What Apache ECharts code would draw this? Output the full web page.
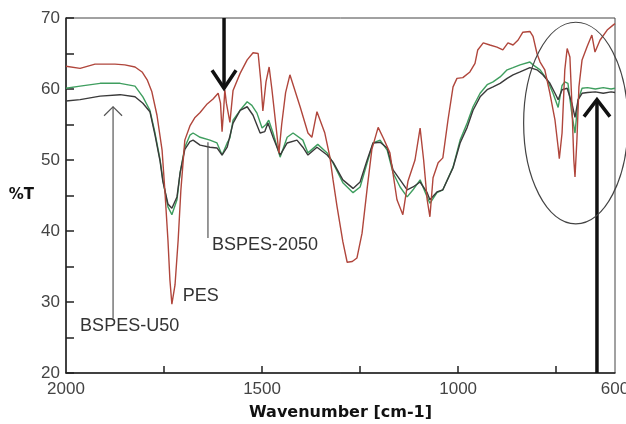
<!DOCTYPE html>
<html><head><meta charset="utf-8">
<script src="https://cdn.jsdelivr.net/npm/echarts@6/dist/echarts.min.js"></script>
<style>html,body{margin:0;padding:0;background:#fff}#c{width:626px;height:424px}</style>
</head><body><div id="c"></div>
<script>
// ---- data (wavenumber cm-1, %T) ----
const pesWn = [2000,1964,1926,1875,1850,1824,1806,1793,1781,1768,
  1755,1748,1740,1735,1730,1722,1714,1707,1697,1684,
  1671,1658,1640,1625,1612,1606,1602,1598,1595,1591,
  1582,1574,1556,1538,1523,1510,1503,1498,1490,1482,
  1475,1465,1457,1450,1440,1429,1424,1403,1383,1373,
  1360,1340,1327,1319,1309,1294,1283,1270,1258,1245,
  1232,1220,1204,1190,1174,1156,1141,1128,1110,1097,
  1088,1079,1072,1064,1051,1039,1026,1013,1003,988,
  970,957,950,936,919,901,886,873,860,847,
  835,817,809,799,791,779,766,753,745,742,
  735,728,722,715,710,705,702,697,692,684,
  671,659,651,638,620,605,600];
const pesT = [63.2,62.9,63.5,63.5,63.4,63.1,62.4,61.3,59.6,56.3,
  51.4,45.8,38.7,33.1,29.7,32.4,38.7,45.8,52.8,54.8,
  56.0,56.7,57.9,58.6,59.4,58.0,54.0,57.0,59.9,58.0,
  55.3,59.8,62.2,64.1,65.1,65.0,61.0,56.9,61.0,63.1,
  60.0,55.0,51.0,55.0,59.5,62.0,61.8,57.5,53.8,53.2,
  56.8,53.8,50.4,47.2,43.5,38.5,35.6,35.7,36.2,39.7,
  46.0,51.5,54.6,53.0,51.0,44.4,42.3,47.0,50.0,54.5,
  50.0,44.4,42.0,47.5,49.6,50.3,55.6,60.3,61.5,61.6,
  62.4,63.6,65.5,66.5,66.2,65.9,65.5,66.5,66.2,66.9,
  68.0,68.1,67.4,65.0,63.8,62.7,59.4,55.6,51.8,50.2,
  53.8,62.7,65.7,64.5,58.0,50.0,47.6,53.0,60.3,64.1,
  66.0,67.6,65.2,66.9,68.3,69.0,69.2];

const b2050Wn = [2000,1964,1913,1862,1824,1804,1786,1773,1760,1753,
  1740,1730,1717,1709,1697,1684,1676,1658,1633,1615,
  1602,1589,1582,1574,1556,1538,1526,1513,1500,1490,
  1483,1472,1454,1436,1421,1396,1383,1358,1334,1319,
  1294,1268,1250,1232,1217,1199,1181,1166,1148,1130,
  1115,1097,1079,1072,1054,1039,1013,995,977,962,
  944,926,911,893,875,860,842,817,809,791,
  773,758,745,735,728,720,710,702,694,684,
  670,650,630,610,600];
const b2050T = [60.1,60.4,60.8,60.8,60.4,58.9,57.0,53.8,50.0,47.2,
  43.4,42.3,44.4,48.2,51.8,53.5,53.8,53.2,52.8,52.4,
  50.7,52.4,53.1,55.6,57.0,58.2,57.7,56.6,54.5,55.0,
  55.6,53.8,50.4,53.2,53.8,52.8,51.0,52.2,51.0,49.6,
  46.8,45.4,46.2,49.6,52.4,52.8,51.4,48.2,46.2,44.8,
  45.8,47.2,44.8,43.9,45.4,45.8,49.0,52.8,55.2,57.5,
  59.4,60.6,61.0,61.7,62.7,63.0,63.4,63.8,63.4,62.7,
  61.3,59.4,57.4,60.5,61.0,60.8,56.5,53.8,58.5,60.1,
  60.2,60.0,60.2,60.0,60.1];

const u50Wn = [2000,1964,1913,1862,1824,1804,1786,1773,1760,1753,
  1740,1730,1717,1709,1697,1684,1676,1658,1633,1615,
  1602,1589,1574,1556,1538,1523,1505,1493,1485,1472,
  1454,1436,1411,1396,1383,1360,1334,1319,1294,1268,
  1250,1232,1217,1199,1181,1166,1148,1130,1115,1097,
  1079,1072,1054,1039,1013,995,977,962,944,926,
  911,893,875,860,842,817,799,784,766,753,
  745,735,722,710,702,694,684,670,650,630,
  610,600];
const u50T = [58.3,58.5,59.0,59.2,58.9,58.0,56.8,53.5,49.8,47.0,
  43.8,43.2,44.8,48.2,51.5,52.6,52.8,52.1,51.8,51.7,
  50.7,51.8,55.2,57.0,57.5,56.3,53.8,54.0,55.2,53.2,
  50.7,52.4,52.8,51.8,50.7,51.8,50.7,49.7,47.2,46.0,
  46.9,50.0,52.4,52.5,51.7,48.6,47.2,45.8,46.2,46.9,
  45.4,44.4,45.5,45.8,48.9,52.4,54.6,57.0,58.9,59.9,
  60.3,60.8,61.5,62.0,62.4,63.0,62.7,62.0,60.8,59.4,
  58.5,59.9,60.1,58.0,56.0,58.5,59.4,59.5,59.6,59.4,
  59.6,59.5];

const xLabelValues = [2000, 1500, 1000, 600];
const xTickValues = [1750, 1500, 1250, 1000, 750];

// annotation anchors in data units [wavenumber, %T]
const downArrow = [[1597, 70], [1597, 60.1]];
const upArrow = [[646, 20], [646, 58.5]];
const u50Leader = [[1880, 27.7], [1880, 57.5]];
const b2050Leader = [[1638, 52.5], [1638, 39.0]];
const labelTexts = ['BSPES-U50', 'BSPES-2050', 'PES'];
const labelPos = [[1964, 26.6], [1628, 38.0], [1702, 30.8]];
const ellipseCenter = [700, 55.2];
const ellipseHalf = [133, 14.2]; // half-width in cm-1, half-height in %T

const zip = (a, b) => a.map((v, i) => [v, b[i]]);
const FONT = 'Liberation Sans, Arial, sans-serif';

const chart = echarts.init(document.getElementById('c'));
chart.setOption({
  animation: false,
  backgroundColor: '#fff',
  grid: { left: 66, right: 11, top: 18, bottom: 51, outerBoundsMode: 'none', containLabel: false,
    show: true, borderColor: '#444', borderWidth: 1 },
  xAxis: {
    type: 'value', min: 600, max: 2000, inverse: true,
    name: 'Wavenumber [cm-1]', nameLocation: 'middle', nameGap: 32,
    nameTextStyle: { fontFamily: 'DejaVu Sans', fontWeight: 'bold', fontSize: 16, color: '#111' },
    axisLine: { show: true, onZero: false, lineStyle: { color: '#222', width: 1.5 } },
    axisTick: { show: true, inside: true, length: 7, customValues: xTickValues, lineStyle: { color: '#222', width: 1.5 } },
    axisLabel: { customValues: xLabelValues, formatter: (v) => String(v), margin: 8, fontFamily: FONT, fontSize: 17, color: '#444', showMinLabel: true, showMaxLabel: true },
    splitLine: { show: false }
  },
  yAxis: {
    type: 'value', min: 20, max: 70, interval: 10,
    name: '%T', nameLocation: 'middle', nameRotate: 0, nameGap: 32,
    nameTextStyle: { fontFamily: 'DejaVu Sans', fontWeight: 'bold', fontSize: 15, color: '#111' },
    axisLine: { show: true, onZero: false, lineStyle: { color: '#222', width: 1.5 } },
    axisTick: { show: true, inside: true, length: 8, lineStyle: { color: '#222', width: 1.5 } },
    minorTick: { show: true, splitNumber: 2, length: 8, lineStyle: { color: '#222', width: 1.5 } },
    axisLabel: { margin: 6, formatter: (v) => String(v), fontFamily: FONT, fontSize: 17, color: '#444' },
    splitLine: { show: false }, minorSplitLine: { show: false }
  },
  series: [
    { name: 'BSPES-2050', type: 'line', data: zip(b2050Wn, b2050T), symbol: 'none', lineStyle: { color: '#3f9e5f', width: 1.4 }, z: 2 },
    { name: 'BSPES-U50', type: 'line', data: zip(u50Wn, u50T), symbol: 'none', lineStyle: { color: '#3a3a3a', width: 1.4 }, z: 3 },
    { name: 'PES', type: 'line', data: zip(pesWn, pesT), symbol: 'none', lineStyle: { color: '#b0463c', width: 1.4 }, z: 4 }
  ]
});

const P = (d) => chart.convertToPixel({ gridIndex: 0 }, d);
const g = [];
function arrow(seg, wing, drop, width, color, pointUp) {
  const a = P(seg[0]), b = P(seg[1]);
  g.push({ type: 'line', shape: { x1: a[0], y1: a[1], x2: b[0], y2: b[1] }, style: { stroke: color, lineWidth: width }, z: 50 });
  const s = pointUp ? 1 : -1;
  g.push({ type: 'polyline', shape: { points: [[b[0] - wing, b[1] + s * drop], [b[0], b[1]], [b[0] + wing, b[1] + s * drop]] },
    style: { stroke: color, lineWidth: width, fill: null }, z: 50 });
}
arrow(downArrow, 12, 18, 3.5, '#111', false);
arrow(upArrow, 13, 17, 3.5, '#111', true);
arrow(u50Leader, 9, 9, 1.2, '#555', true);
const l1 = P(b2050Leader[0]), l2 = P(b2050Leader[1]);
g.push({ type: 'line', shape: { x1: l1[0], y1: l1[1], x2: l2[0], y2: l2[1] }, style: { stroke: '#555', lineWidth: 1.2 }, z: 50 });
labelTexts.forEach((t, i) => {
  const p = P(labelPos[i]);
  g.push({ type: 'text', x: p[0], y: p[1], style: { text: t, fill: '#333', font: '18px ' + FONT, textAlign: 'left', textVerticalAlign: 'middle' }, z: 50 });
});
const c = P(ellipseCenter), e = P([ellipseCenter[0] - ellipseHalf[0], ellipseCenter[1] + ellipseHalf[1]]);
g.push({ type: 'ellipse', shape: { cx: c[0], cy: c[1], rx: Math.abs(e[0] - c[0]), ry: Math.abs(e[1] - c[1]) },
  style: { stroke: '#444', fill: null, lineWidth: 1.2 }, z: 50 });
chart.setOption({ graphic: g });
</script>
</body></html>
